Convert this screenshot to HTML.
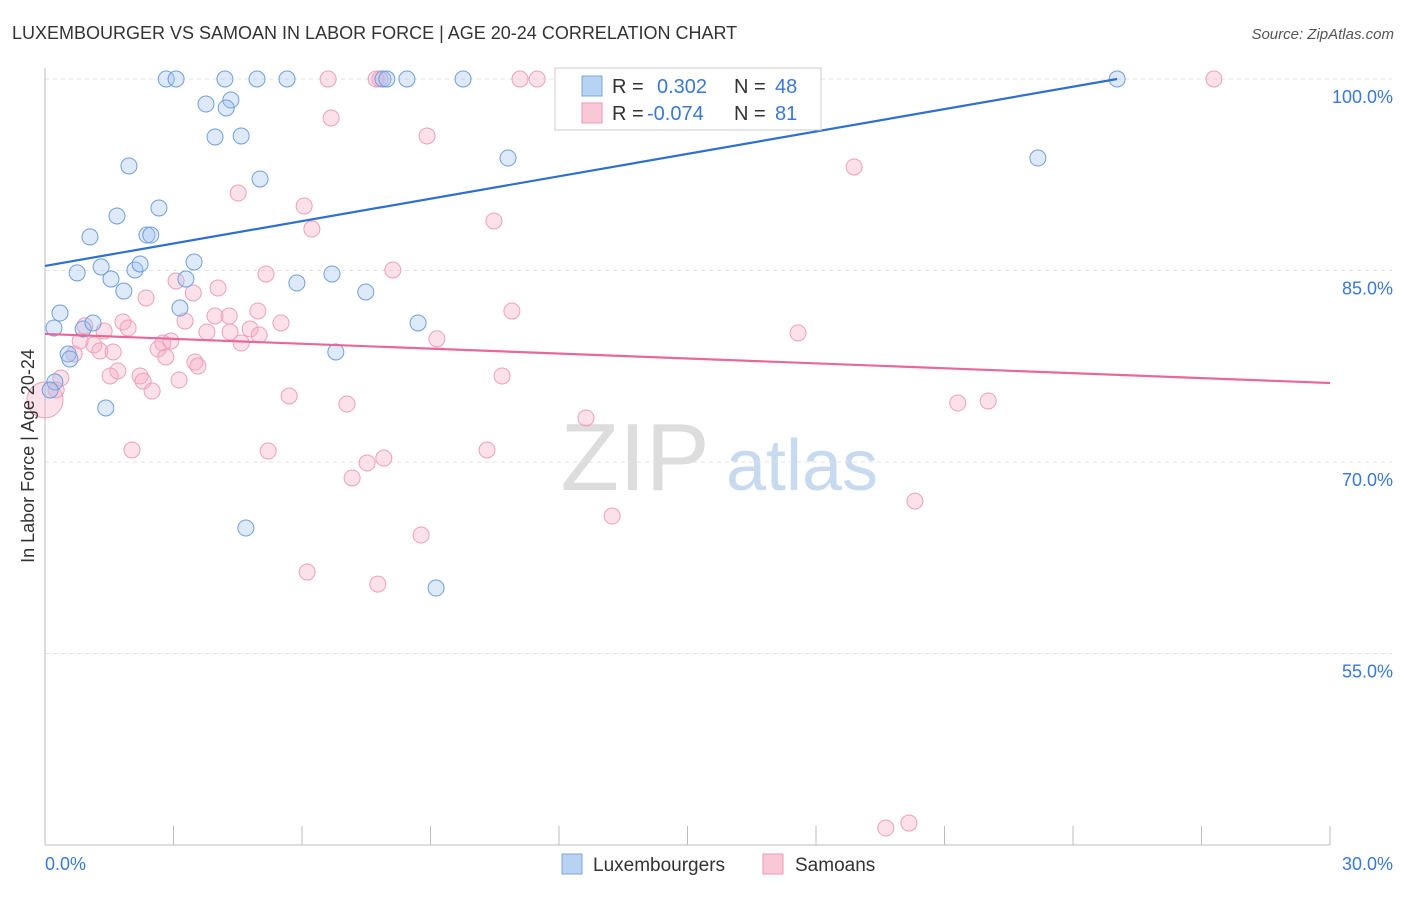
<!DOCTYPE html>
<html><head><meta charset="utf-8"><style>
body{margin:0;background:#fff;font-family:"Liberation Sans",sans-serif;}
svg text{font-family:"Liberation Sans",sans-serif;}
</style></head><body>
<svg id="chart" width="1406" height="892" xmlns="http://www.w3.org/2000/svg">
<text x="12" y="39" font-size="18" fill="#333">LUXEMBOURGER VS SAMOAN IN LABOR FORCE | AGE 20-24 CORRELATION CHART</text>
<text x="1394" y="39" font-size="15" fill="#555" text-anchor="end" font-style="italic">Source: ZipAtlas.com</text>
<g>
<text x="635" y="490" font-size="96" fill="#ddd" text-anchor="middle" font-family="Liberation Serif">ZIP</text>
<text x="802" y="490" font-size="72" fill="#c8daf0" text-anchor="middle">atlas</text>
</g>
<g id="grid"></g>
<g id="axes"></g>
<g id="marks"></g>
<g>
<rect x="555" y="68" width="266" height="62" fill="#fff" stroke="#ccc"/>
<rect x="582" y="76" width="20" height="20" fill="#b8d2f4" stroke="#7aa6e0"/>
<text x="612" y="93" font-size="20" fill="#333">R =</text><text x="657" y="93" font-size="20" fill="#3a78d4">0.302</text>
<text x="734" y="93" font-size="20" fill="#333">N =</text><text x="775" y="93" font-size="20" fill="#3a78d4">48</text>
<rect x="582" y="103" width="20" height="20" fill="#f9c8d6" stroke="#ee9ab4"/>
<text x="612" y="120" font-size="20" fill="#333">R =</text><text x="647" y="120" font-size="20" fill="#3a78d4">-0.074</text>
<text x="734" y="120" font-size="20" fill="#333">N =</text><text x="775" y="120" font-size="20" fill="#3a78d4">81</text>
</g>
<g>
<rect x="562" y="854" width="20" height="20" fill="#b8d2f4" stroke="#7aa6e0"/>
<text x="593" y="871" font-size="19" fill="#333">Luxembourgers</text>
<rect x="763" y="854" width="20" height="20" fill="#f9c8d6" stroke="#ee9ab4"/>
<text x="795" y="871" font-size="19" fill="#333">Samoans</text>
</g>
<text transform="translate(34,456) rotate(-90)" font-size="18" fill="#333" text-anchor="middle">In Labor Force | Age 20-24</text>
</svg>
<script>
const yTicks=[100,85,70,55];
const yTickLabels=["100.0%","85.0%","70.0%","55.0%"];
const xTicks=[0,3,6,9,12,15,18,21,24,27,30];
const xEndLabels=["0.0%","30.0%"];
const luxX=[2.83,3.06,4.20,4.95,5.65,7.89,7.98,8.45,9.76,25.03,3.76,4.34,4.23,3.97,4.58,1.96,5.02,10.81,23.18,1.68,2.66,1.05,2.38,2.47,0.75,1.31,2.10,2.22,3.48,1.54,1.84,3.29,5.88,6.70,7.49,0.35,3.15,0.21,0.89,1.12,8.71,0.54,0.58,6.79,0.23,0.12,1.42,4.69,9.13];
const luxY=[100,100,100,100,100,100,100,100,100,100,98.04,98.36,97.73,95.46,95.54,93.19,92.17,93.81,93.81,89.27,89.90,87.63,87.78,87.78,84.81,85.28,85.04,85.51,85.67,84.33,83.39,84.33,84.02,84.73,83.32,81.67,82.06,80.50,80.42,80.89,80.89,78.46,78.07,78.62,76.27,75.64,74.23,64.83,60.13];
const samX=[6.61,7.73,7.82,11.09,11.49,14.94,27.29,6.68,8.92,18.89,4.51,6.05,6.23,10.48,5.16,8.12,2.36,3.06,3.46,4.04,3.27,3.97,4.30,4.97,5.51,1.82,1.94,1.38,0.93,1.14,0.82,4.32,3.78,4.79,5.00,4.58,9.15,10.90,17.58,2.64,2.75,2.94,2.82,1.28,1.59,0.68,3.50,3.57,1.70,1.52,2.22,2.29,3.13,2.50,0.37,0.26,5.70,7.05,10.67,21.31,22.02,12.63,2.03,5.21,10.32,7.91,7.52,7.17,13.24,20.31,8.78,6.12,7.77,19.63,20.17,0];
const samY=[100,100,100,100,100,100,100,96.95,95.54,93.11,91.07,90.05,88.25,88.88,84.73,85.04,82.85,84.18,83.24,83.63,81.04,81.44,81.44,81.83,80.89,80.97,80.50,80.26,80.66,79.17,79.48,80.18,80.18,80.42,79.95,79.32,79.64,81.83,80.11,78.85,79.32,79.48,78.23,78.70,78.62,78.46,77.83,77.52,77.13,76.74,76.74,76.34,76.42,75.56,76.58,75.64,75.17,74.54,76.74,74.62,74.78,73.45,70.94,70.86,70.94,70.31,69.92,68.75,65.77,66.94,64.28,61.38,60.44,41.33,41.72,74.86];
const luxTrendX=[0,25.03], luxTrendY=[85.36,100];
const samTrendX=[0,30], samTrendY=[80.03,76.19];

const NS="http://www.w3.org/2000/svg";
const X=v=>45+v*1285/30;
const Y=v=>79+(100-v)*12.767;
function mk(tag,attrs,parent){const e=document.createElementNS(NS,tag);for(const k in attrs)e.setAttribute(k,attrs[k]);parent.appendChild(e);return e;}
const grid=document.getElementById('grid'),axes=document.getElementById('axes'),marks=document.getElementById('marks');
yTicks.forEach((t,i)=>{
  const l=mk('line',{x1:45,x2:1392,y1:Y(t),y2:Y(t),stroke:'#e2e2e2','stroke-dasharray':'4,4'},grid);
  
  
  const tx=mk('text',{x:1393,y:Y(t)+24,'font-size':18,fill:'#3a78d4','text-anchor':'end'},axes);
  tx.textContent=yTickLabels[i];
  
  
});
let a=mk('line',{x1:45,x2:45,y1:68,y2:845,stroke:'#bbb'},axes);


a=mk('line',{x1:45,x2:1330,y1:845,y2:845,stroke:'#bbb'},axes);


xTicks.forEach(t=>{
  const l=mk('line',{x1:X(t),x2:X(t),y1:826,y2:845,stroke:'#bbb'},axes);
  
  
});
let t0=mk('text',{x:45,y:870,'font-size':18,fill:'#3a78d4'},axes);t0.textContent=xEndLabels[0];


let t1=mk('text',{x:1393,y:870,'font-size':18,fill:'#3a78d4','text-anchor':'end'},axes);t1.textContent=xEndLabels[1];



samX.forEach((x,i)=>{
  const r=(i===samX.length-1)?18:8;
  const c=mk('circle',{cx:X(x),cy:Y(samY[i]),r:r,fill:'rgba(246,170,195,0.35)',stroke:'#eea0b8','stroke-width':1},marks);
  
  
});
luxX.forEach((x,i)=>{
  const c=mk('circle',{cx:X(x),cy:Y(luxY[i]),r:8,fill:'rgba(160,195,240,0.35)',stroke:'#6f9fdc','stroke-width':1},marks);
  
  
});
let tl=mk('line',{x1:X(luxTrendX[0]),y1:Y(luxTrendY[0]),x2:X(luxTrendX[1]),y2:Y(luxTrendY[1]),stroke:'#2f6fd0','stroke-width':2.2},marks);


tl=mk('line',{x1:X(samTrendX[0]),y1:Y(samTrendY[0]),x2:X(samTrendX[1]),y2:Y(samTrendY[1]),stroke:'#e8689a','stroke-width':2.2},marks);


</script>
</body></html>
